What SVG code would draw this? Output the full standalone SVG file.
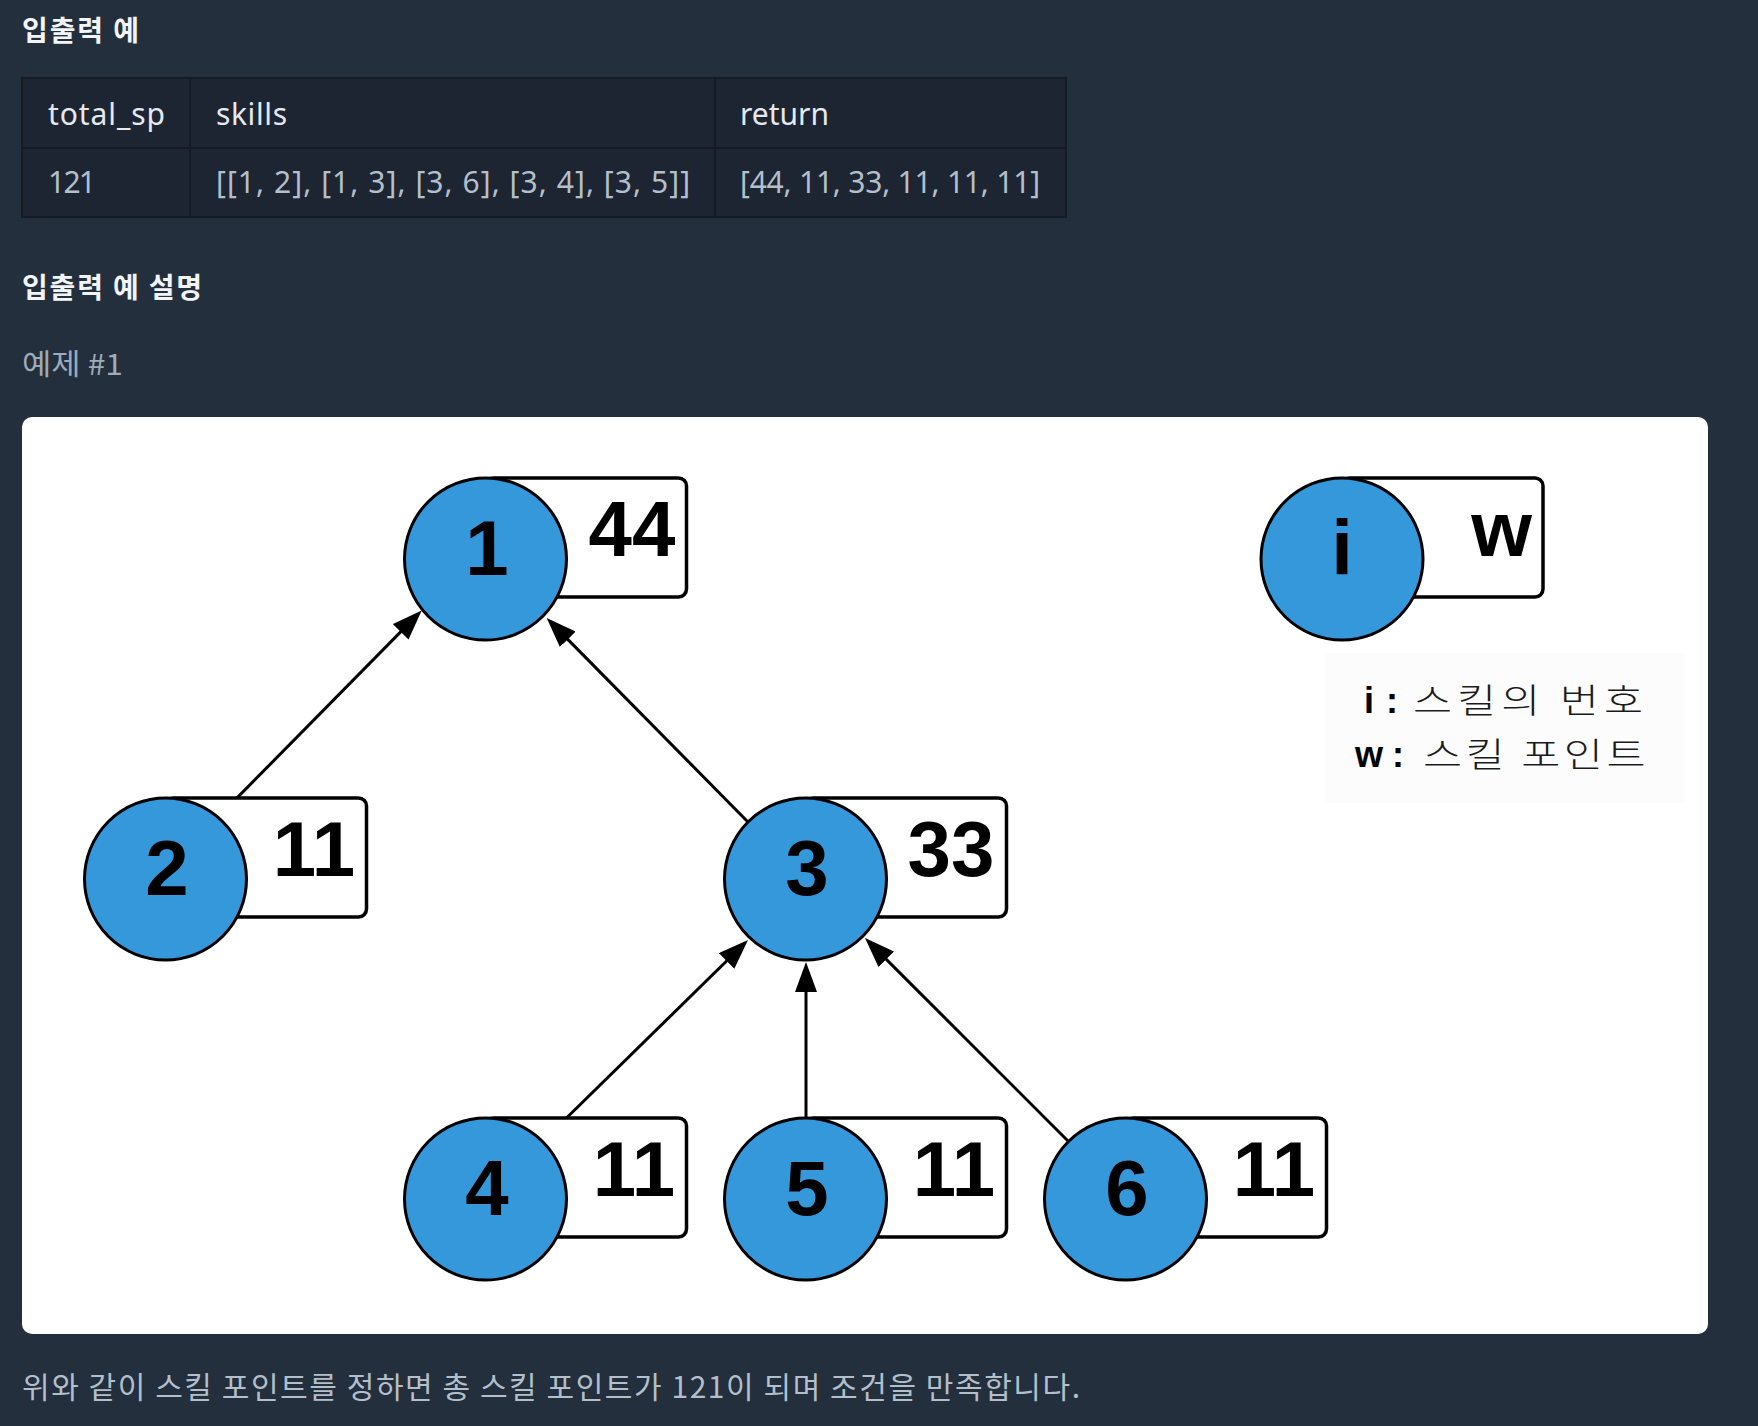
<svg xmlns="http://www.w3.org/2000/svg" width="1758" height="1426" viewBox="0 0 1758 1426">
<defs>
<style>
.h{font-family:"Noto Sans CJK KR","Noto Sans",sans-serif;font-weight:700;font-size:28px;fill:#f2f4f7}
.th{font-family:"Noto Sans","Noto Sans CJK KR",sans-serif;font-size:30px;fill:#e6e9ee}
.td{font-family:"Noto Sans","Noto Sans CJK KR",sans-serif;font-size:30px;fill:#b3bfcb}
.sub{font-family:"Noto Sans CJK KR","Noto Sans",sans-serif;font-size:29px;fill:#9eabb9}
.body{font-family:"Noto Sans CJK KR","Noto Sans",sans-serif;font-size:30px;fill:#b3bfcb}
.box{fill:#ffffff;stroke:#000;stroke-width:3.5}
.circ{fill:#3498db;stroke:#000;stroke-width:3}
.num{font-family:"Liberation Sans",Arial,sans-serif;font-weight:700;font-size:78px;fill:#000;text-anchor:middle}
.lbl{font-family:"Liberation Sans",Arial,sans-serif;font-weight:700;font-size:78px;fill:#000;text-anchor:middle}
.edge{stroke:#000;stroke-width:3;fill:none;marker-end:url(#arr)}
.lgb{font-family:"Liberation Sans",Arial,sans-serif;font-weight:900;font-size:36px;fill:#000}
.lgk{font-family:"Noto Sans CJK KR",sans-serif;font-weight:300;font-size:34px;fill:#1a1a1a}
.tline{stroke:#151b24;stroke-width:2}
</style>
<marker id="arr" markerUnits="userSpaceOnUse" markerWidth="30" markerHeight="22" refX="20" refY="11" orient="auto" viewBox="0 0 30 22">
<path d="M0,0 L30,11 L0,22 z" fill="#000"/>
</marker>
</defs>
<rect x="0" y="0" width="1758" height="1426" fill="#232f3d"/>
<text class="h" x="22" y="41" textLength="117" lengthAdjust="spacing">입출력 예</text>
<g id="table">
<rect x="22" y="78" width="1044" height="139" fill="#1d2532" stroke="#151b24" stroke-width="2"/>
<line class="tline" x1="22" y1="148" x2="1066" y2="148"/>
<line class="tline" x1="190" y1="78" x2="190" y2="217"/>
<line class="tline" x1="715" y1="78" x2="715" y2="217"/>
<text class="th" x="48" y="125" textLength="117" lengthAdjust="spacing">total_sp</text>
<text class="th" x="216" y="125" textLength="71" lengthAdjust="spacing">skills</text>
<text class="th" x="740" y="125" textLength="89" lengthAdjust="spacing">return</text>
<text class="td" x="48" y="193" textLength="48" lengthAdjust="spacing">121</text>
<text class="td" x="216" y="193" textLength="474" lengthAdjust="spacing">[[1, 2], [1, 3], [3, 6], [3, 4], [3, 5]]</text>
<text class="td" x="740" y="193" textLength="300" lengthAdjust="spacing">[44, 11, 33, 11, 11, 11]</text>
</g>
<text class="h" x="22" y="298" textLength="180" lengthAdjust="spacing">입출력 예 설명</text>
<text class="sub" x="22" y="375" textLength="101" lengthAdjust="spacingAndGlyphs">예제 #1</text>
<rect x="22" y="417" width="1686" height="917" rx="10" fill="#ffffff"/>
<rect x="1325" y="653" width="360" height="150" fill="#fcfcfc"/>
<g id="connectors">
<line class="edge" x1="220.8" y1="814.4" x2="414.7" y2="617.6"/>
<line class="edge" x1="748" y1="822" x2="553.7" y2="625.1"/>
<line class="edge" x1="542" y1="1142" x2="740.9" y2="947"/>
<line class="edge" x1="806" y1="1118" x2="806" y2="972"/>
<line class="edge" x1="1069" y1="1142" x2="872.1" y2="945.1"/>
</g>
<g id="node1">
<rect class="box" x="485.5" y="478" width="201" height="119" rx="8"/>
<circle class="circ" cx="485.5" cy="559" r="81"/>
<text class="num" x="487" y="575">1</text>
<text class="lbl" x="632" y="556">44</text>
</g>
<g id="node2">
<rect class="box" x="165.5" y="798" width="201" height="119" rx="8"/>
<circle class="circ" cx="165.5" cy="879" r="81"/>
<text class="num" x="167" y="895">2</text>
<text class="lbl" x="314" y="876">11</text>
</g>
<g id="node3">
<rect class="box" x="805.5" y="798" width="201" height="119" rx="8"/>
<circle class="circ" cx="805.5" cy="879" r="81"/>
<text class="num" x="807" y="895">3</text>
<text class="lbl" x="951" y="876">33</text>
</g>
<g id="node4">
<rect class="box" x="485.5" y="1118" width="201" height="119" rx="8"/>
<circle class="circ" cx="485.5" cy="1199" r="81"/>
<text class="num" x="487" y="1215">4</text>
<text class="lbl" x="634" y="1196">11</text>
</g>
<g id="node5">
<rect class="box" x="805.5" y="1118" width="201" height="119" rx="8"/>
<circle class="circ" cx="805.5" cy="1199" r="81"/>
<text class="num" x="807" y="1215">5</text>
<text class="lbl" x="954" y="1196">11</text>
</g>
<g id="node6">
<rect class="box" x="1125.5" y="1118" width="201" height="119" rx="8"/>
<circle class="circ" cx="1125.5" cy="1199" r="81"/>
<text class="num" x="1127" y="1215">6</text>
<text class="lbl" x="1274" y="1196">11</text>
</g>
<g id="legend-node">
<rect class="box" x="1342" y="478" width="201" height="119" rx="8"/>
<circle class="circ" cx="1342" cy="559" r="81"/>
<text class="num" x="1342" y="575">i</text>
<text class="lbl" x="1532" y="556" style="text-anchor:end">w</text>
</g>
<g id="legend-text">
<text class="lgb" x="1364" y="713">i</text>
<text class="lgb" x="1386" y="713">:</text>
<text class="lgk" transform="translate(1413,713) scale(1.25,1)" x="0" y="0" textLength="184" lengthAdjust="spacing">스킬의 번호</text>
<text class="lgb" x="1355" y="767">w</text>
<text class="lgb" x="1392" y="767">:</text>
<text class="lgk" transform="translate(1423,767) scale(1.25,1)" x="0" y="0" textLength="178" lengthAdjust="spacing">스킬 포인트</text>
</g>
<text class="body" x="22" y="1398" textLength="1058" lengthAdjust="spacing">위와 같이 스킬 포인트를 정하면 총 스킬 포인트가 121이 되며 조건을 만족합니다.</text>
</svg>
